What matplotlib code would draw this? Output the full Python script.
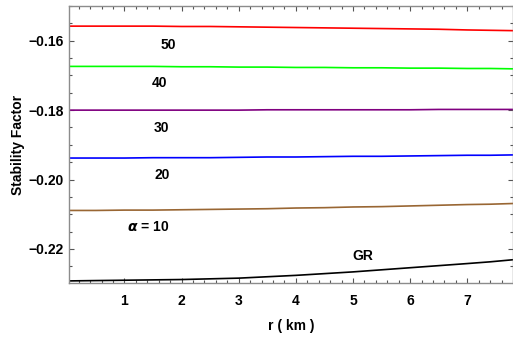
import numpy as np
import matplotlib.pyplot as plt
from matplotlib.ticker import MultipleLocator

plt.rcParams['font.family'] = ['Liberation Sans', 'DejaVu Sans']
plt.rcParams['font.weight'] = 'bold'

# radius samples (km) and stability factor curves
r = [0.03, 0.5, 1, 1.5, 2, 2.5, 3, 3.5, 4, 4.5, 5, 5.5, 6, 6.5, 7, 7.4, 7.8]
sf_50 = [-0.1558, -0.1558, -0.1558, -0.1558, -0.1559, -0.1559, -0.1560, -0.1561,
         -0.1562, -0.1563, -0.1564, -0.1565, -0.1566, -0.1567, -0.1569, -0.1570, -0.1571]
sf_40 = [-0.1674, -0.1674, -0.1674, -0.1674, -0.1675, -0.1675, -0.1676, -0.1676,
         -0.1677, -0.1677, -0.1678, -0.1678, -0.1679, -0.1679, -0.1680, -0.1680, -0.1681]
sf_30 = [-0.1800, -0.1800, -0.1800, -0.1800, -0.1800, -0.1800, -0.1800, -0.1799,
         -0.1799, -0.1799, -0.1799, -0.1799, -0.1799, -0.1798, -0.1798, -0.1798, -0.1798]
sf_20 = [-0.1938, -0.1938, -0.1938, -0.1937, -0.1937, -0.1937, -0.1936, -0.1935,
         -0.1935, -0.1934, -0.1933, -0.1933, -0.1932, -0.1931, -0.1930, -0.1930, -0.1929]
sf_10 = [-0.2089, -0.2089, -0.2088, -0.2088, -0.2087, -0.2086, -0.2085, -0.2084,
         -0.2082, -0.2081, -0.2079, -0.2078, -0.2076, -0.2074, -0.2072, -0.2071, -0.2069]
sf_gr = [-0.2292, -0.2291, -0.2290, -0.2289, -0.2288, -0.2286, -0.2284, -0.2280,
         -0.2276, -0.2271, -0.2266, -0.2260, -0.2254, -0.2248, -0.2242, -0.2237, -0.2231]

curves = [
    (sf_50, '#FF0000', '50', (1.77, -0.1612)),
    (sf_40, '#00FF00', '40', (1.61, -0.1722)),
    (sf_30, '#800080', '30', (1.64, -0.1852)),
    (sf_20, '#0000FF', '20', (1.66, -0.1987)),
    (sf_10, '#996633', r'$\alpha$ = 10', (1.42, -0.2137)),
    (sf_gr, '#000000', 'GR', (5.18, -0.2221)),
]

fig = plt.figure(figsize=(5.13, 3.37), dpi=100)
ax = fig.add_axes([69/513, 54/337, 444/513, 277/337])

for ys, col, lab, pos in curves:
    ax.plot(r, ys, color=col, lw=1.2)
    ax.text(pos[0], pos[1], lab, fontsize=10, fontweight='bold',
            ha='center', va='center')

ax.set_xlim(0.03, 7.8)
ax.set_ylim(-0.2298, -0.1500)
ax.xaxis.set_major_locator(MultipleLocator(1))
ax.xaxis.set_minor_locator(MultipleLocator(0.2))
ax.yaxis.set_major_locator(MultipleLocator(0.02))
ax.yaxis.set_minor_locator(MultipleLocator(0.005))
ax.set_xticks([1, 2, 3, 4, 5, 6, 7])
ax.yaxis.set_major_formatter(lambda v, p: f'{v:.2f}'.replace('-', '\u2212'))

for s in ax.spines.values():
    s.set_color('#8c8c8c')
    s.set_linewidth(1.0)
ax.tick_params(which='both', direction='in', top=True, right=True,
               color='#555555', labelsize=10, width=0.8)
ax.tick_params(which='major', length=3.5)
ax.tick_params(which='minor', length=2)
ax.tick_params(axis='x', pad=8)
ax.tick_params(axis='y', pad=4)
for t in ax.get_xticklabels() + ax.get_yticklabels():
    t.set_fontweight('bold')

ax.set_xlabel('r ( km )', fontsize=10, fontweight='bold', labelpad=8)
ax.set_ylabel('Stability Factor', fontsize=10, fontweight='bold', labelpad=2)

fig.savefig('out.png', dpi=100)
